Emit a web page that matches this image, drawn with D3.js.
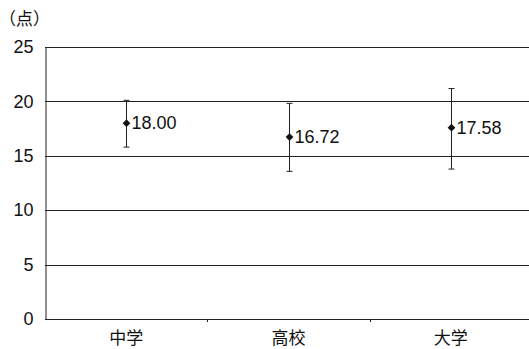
<!DOCTYPE html>
<html><head><meta charset="utf-8">
<script src="https://cdn.jsdelivr.net/npm/d3@7"></script>
<style>
html,body{margin:0;padding:0;background:#fff;}
svg{display:block;}
</style></head>
<body>
<script>
// School levels, mean scores and spread (whisker half-lengths, points)
const categories = ["中学", "高校", "大学"];
const means = [18.00, 16.72, 17.58];
const upper = [2.1, 3.1, 3.6];
const lower = [2.2, 3.15, 3.8];
const yTicks = [0, 5, 10, 15, 20, 25];
const unitLabel = "（点）";

const W = 529, H = 349;
const margin = {left: 45, right: -3, top: 47, bottom: 30};
const svg = d3.select("body").append("svg").attr("width", W).attr("height", H);

const x = d3.scaleBand().domain(categories).range([margin.left, W - margin.right]);
const y = d3.scaleLinear().domain([0, 25]).range([H - margin.bottom, margin.top]);

const num = "Liberation Sans, Arial, sans-serif";
const cjk = "Noto Sans CJK JP, sans-serif";

// horizontal grid lines
svg.append("g").selectAll("line").data(yTicks).join("line")
  .attr("x1", margin.left).attr("x2", W)
  .attr("y1", d => Math.round(y(d)) + 0.5).attr("y2", d => Math.round(y(d)) + 0.5)
  .attr("stroke", "#222").attr("stroke-width", 1);

// y axis
const yAxis = svg.append("g").attr("transform", `translate(${margin.left + 0.5},0)`)
  .call(d3.axisLeft(y).tickValues(yTicks).tickSize(0).tickPadding(12));
yAxis.select(".domain").attr("stroke", "#222");
yAxis.selectAll("text").attr("font-family", num).attr("font-size", 18).attr("fill", "#111");

// x axis with small ticks at category boundaries
const bounds = categories.slice(1).map(c => x(c));
svg.append("g").selectAll("line").data(bounds).join("line")
  .attr("x1", d => Math.round(d) + 0.5).attr("x2", d => Math.round(d) + 0.5)
  .attr("y1", y(0)).attr("y2", y(0) + 3).attr("stroke", "#222");
svg.append("g").selectAll("text").data(categories).join("text")
  .attr("x", d => x(d) + x.bandwidth() / 2).attr("y", y(0) + 25)
  .attr("text-anchor", "middle").attr("font-family", cjk).attr("font-size", 17)
  .attr("fill", "#111").text(d => d);

// unit label
svg.append("text").attr("x", -1).attr("y", 25).attr("font-family", cjk)
  .attr("font-size", 17).attr("fill", "#111").text(unitLabel);

// error bars, markers, value labels
const g = svg.append("g").selectAll("g").data(categories).join("g")
  .attr("transform", (d) => `translate(${Math.round(x(d) + x.bandwidth() / 2) + 0.5},0)`);
g.append("line")
  .attr("y1", (d, i) => y(means[i] + upper[i])).attr("y2", (d, i) => y(means[i] - lower[i]))
  .attr("stroke", "#222").attr("stroke-width", 1);
g.append("line").attr("x1", -3).attr("x2", 3)
  .attr("y1", (d, i) => y(means[i] + upper[i])).attr("y2", (d, i) => y(means[i] + upper[i]))
  .attr("stroke", "#222");
g.append("line").attr("x1", -3).attr("x2", 3)
  .attr("y1", (d, i) => y(means[i] - lower[i])).attr("y2", (d, i) => y(means[i] - lower[i]))
  .attr("stroke", "#222");
g.append("path")
  .attr("d", d3.symbol(d3.symbolDiamond2, 38))
  .attr("transform", (d, i) => `translate(0,${y(means[i])})`)
  .attr("fill", "#111");
g.append("text").attr("x", 5).attr("y", (d, i) => y(means[i]) + 6)
  .attr("font-family", num).attr("font-size", 18).attr("fill", "#111")
  .text((d, i) => means[i].toFixed(2));
</script>
</body></html>
